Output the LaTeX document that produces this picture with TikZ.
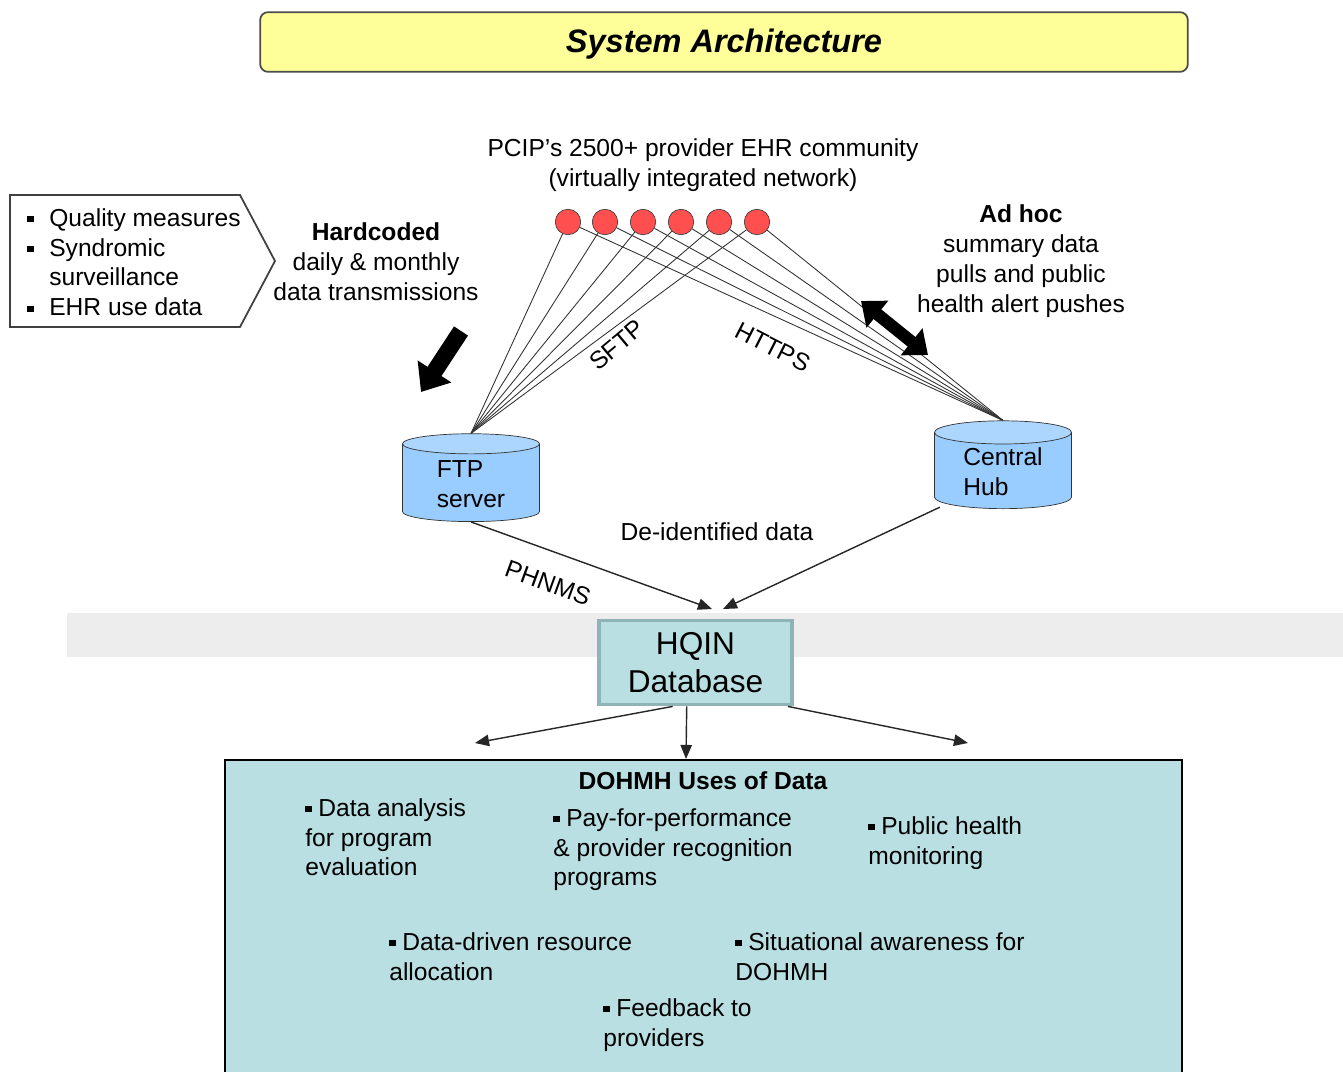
\documentclass[tikz,border=0pt]{standalone}
\usepackage{fontspec}
\setmainfont{Liberation Sans}
\usetikzlibrary{arrows.meta,shapes.geometric,positioning}

\definecolor{titleyellow}{HTML}{FFFF99}
\definecolor{ehrred}{HTML}{FF4F4F}
\definecolor{dbblue}{HTML}{99CCFF}
\definecolor{usesteal}{HTML}{B9DFE2}
\definecolor{hqinedge}{HTML}{8EB4B7}
\definecolor{bandgray}{HTML}{EDEDED}

\newcommand{\sq}{\rule[0.3ex]{0.25em}{0.25em}}

\begin{document}
\begin{tikzpicture}[x=0.02cm,y=-0.02cm,font=\fontsize{14}{17}\selectfont,
    ehr/.style={circle,draw=black!75,fill=ehrred,inner sep=0pt,minimum width=14.5pt},
    store/.style={cylinder,shape border rotate=90,aspect=0.28,draw=black!80,
      cylinder uses custom fill,cylinder body fill=dbblue,cylinder end fill=dbblue!80,
      minimum width=78pt,minimum height=50pt,align=left,inner sep=1pt},
    link/.style={black!80,line width=0.5pt},
    flow/.style={black!85,line width=0.8pt,-{Triangle[width=6.5pt,length=8pt]}},
    bigarrow/.style={line width=9.5pt,-{Triangle[width=22pt,length=14pt]}},
    dohmhitem/.style={anchor=north west,align=left,inner sep=0pt}]
        \useasboundingbox (0,0) rectangle (1343,1072);
        \clip (0,0) rectangle (1343,1072);

        % title
        \node[draw=black!70,line width=1pt,fill=titleyellow,rounded corners=4.5pt,
          minimum width=528pt,minimum height=34pt,text depth=1pt,
          font=\fontsize{18.5}{22}\selectfont\bfseries\itshape] (title) at (724,42) {System Architecture};

        % provider community and the two servers
        \node[align=center] (community) at (703,165) {PCIP's 2500+ provider EHR community\\(virtually integrated network)};
        \node[ehr] (p1) at (568,222) {};
        \node[ehr] (p2) at (605,222) {};
        \node[ehr] (p3) at (643,222) {};
        \node[ehr] (p4) at (681,222) {};
        \node[ehr] (p5) at (719,222) {};
        \node[ehr] (p6) at (757,222) {};

        \node[store] (ftp) at (471,484) {FTP\\server};
        \node[store] (hub) at (1003,472) {Central\\Hub};

        \draw[link] (p1) -- (ftp.north) (p1) -- (hub.north);
        \draw[link] (p2) -- (ftp.north) (p2) -- (hub.north);
        \draw[link] (p3) -- (ftp.north) (p3) -- (hub.north);
        \draw[link] (p4) -- (ftp.north) (p4) -- (hub.north);
        \draw[link] (p5) -- (ftp.north) (p5) -- (hub.north);
        \draw[link] (p6) -- (ftp.north) (p6) -- (hub.north);

        \node[rotate=40] (sftp) at (617,345) {SFTP};
        \node[rotate=-27] (https) at (773,347) {HTTPS};

        % hardcoded transmissions
        \draw[black!75,line width=1pt,fill=white] (10,195) -- (240,195) -- (275,261) -- (240,327) -- (10,327) -- cycle;
        \node[anchor=north west,inner sep=0pt] (measures) at (27,205) {\begin{tabular}{@{}l@{\hspace{9pt}}l@{}}
          \sq & Quality measures\\
          \sq & Syndromic\\
              & surveillance\\
          \sq & EHR use data
        \end{tabular}};
        \node[align=center] (hardcoded) at (376,262) {\textbf{Hardcoded}\\daily \& monthly\\data transmissions};
        \coordinate (hardtail) at (461,331);
        \coordinate (hardtip) at (421,392);
        \draw[bigarrow] (hardtail) -- (hardtip);

        % ad hoc exchange
        \node[align=center] (adhoc) at (1021,261) {\textbf{Ad hoc}\\summary data\\pulls and public\\health alert pushes};
        \coordinate (pull) at (861,301);
        \coordinate (push) at (928,355);
        \draw[line width=7pt,{Triangle[width=19pt,length=12pt]}-{Triangle[width=19pt,length=12pt]}] (pull) -- (push);

        % HQIN
        \fill[bandgray] (67,613) rectangle (1343,657);
        \node[draw=hqinedge,line width=2pt,fill=usesteal,minimum width=110pt,minimum height=48pt,
          align=center,font=\fontsize{18}{22}\selectfont] (db) at (695.5,662.5) {HQIN\\Database};

        \coordinate (inL) at (712,609);
        \coordinate (inR) at (723,609);
        \draw[flow] (ftp.south) -- (inL);
        \draw[flow] ([xshift=-36pt,yshift=1pt]hub.south) -- (inR);
        \node[rotate=-20] (phnms) at (548,583) {PHNMS};
        \node (deid) at (717,532) {De-identified data};

        % uses of data
        \draw[black,line width=0.9pt,fill=usesteal] (225,760) rectangle (1182,1090);
        \node[font=\fontsize{14}{17}\selectfont\bfseries] (uses) at (703,781) {DOHMH Uses of Data};
        \coordinate (outL) at (475,743);
        \coordinate (outM) at (686,759);
        \coordinate (outR) at (968,743);
        \draw[flow] ([xshift=-13pt]db.south) -- (outL);
        \draw[flow] ([xshift=-5pt]db.south) -- (outM);
        \draw[flow] ([xshift=-3.4pt]db.south east) -- (outR);

        \node[dohmhitem] (analysis) at (305,798) {\sq\ Data analysis\\for program\\evaluation};
        \node[dohmhitem] (payment) at (553,808) {\sq\ Pay-for-performance\\\& provider recognition\\programs};
        \node[dohmhitem] (monitor) at (868,816) {\sq\ Public health\\monitoring};
        \node[dohmhitem] (resource) at (389,932) {\sq\ Data-driven resource\\allocation};
        \node[dohmhitem] (aware) at (735,932) {\sq\ Situational awareness for\\DOHMH};
        \node[dohmhitem] (feedback) at (603,998) {\sq\ Feedback to\\providers};
    \end{tikzpicture}
\end{document}
